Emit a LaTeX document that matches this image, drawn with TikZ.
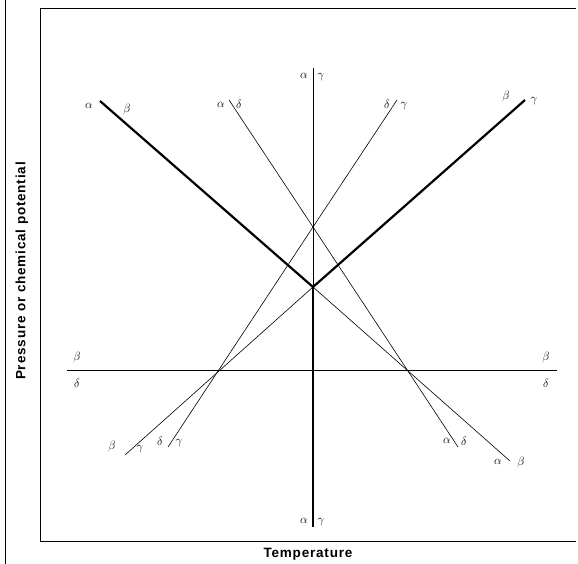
\documentclass[tikz,border=0pt]{standalone}
\usepackage{fontspec}
\newfontfamily\axisfont[LetterSpace=6]{Liberation Sans}
\tikzset{
  phase/.style={
    inner sep = 0pt,
    font=\fontsize{12}{12}\selectfont
  },
  stable/.style={
    line width=2.2pt
  },
  metastable/.style={
    line width=0.6pt
  },
  axislabel/.style={
    inner sep = 0pt,
    font=\axisfont\bfseries\fontsize{13.5}{15}\selectfont
  }
}

\begin{document}
\begin{tikzpicture}[x=1pt,y=-1pt]
        \useasboundingbox (0,0) rectangle (578,564);
        % frame
        \draw[line width=0.5pt] (5,0)--(5,564);
        \draw[line width=0.8pt] (576,8)--(40,8)--(40,541)--(576,541);
        \node[axislabel,rotate=90] (ylab) at (22,271) {Pressure or chemical potential};
        \node[axislabel] (xlab) at (308,554) {Temperature};
        % invariant points
        \coordinate (T) at (313,287);
        \coordinate (U) at (313,227);
        \coordinate (L) at (219,370);
        \coordinate (R) at (407,370);
        % line ends
        \coordinate (agtop) at (313,68);
        \coordinate (agbot) at (313,527);
        \coordinate (abtop) at (100,101);
        \coordinate (abbot) at (510,461);
        \coordinate (bgtop) at (525,100);
        \coordinate (bgbot) at (125,455);
        \coordinate (adtop) at (229,100);
        \coordinate (adbot) at (458,447);
        \coordinate (dgtop) at (397,100);
        \coordinate (dgbot) at (168,447);
        \coordinate (bdleft) at (67,370);
        \coordinate (bdright) at (557,370);
        % metastable extensions
        \draw[metastable] (agtop)--(T);
        \draw[metastable] (T)--(abbot);
        \draw[metastable] (T)--(bgbot);
        \draw[metastable] (adtop)--(U)--(adbot);
        \draw[metastable] (dgtop)--(U)--(dgbot);
        \draw[metastable] (bdleft)--(bdright);
        % stable boundaries
        \draw[stable] (abtop)--(T);
        \draw[stable] (bgtop)--(T);
        \draw[stable] (T)--(agbot);
        % labels
        \node[phase] (a1) at (304,76) {$\alpha$};
        \node[phase] (g1) at (321,77) {$\gamma$};
        \node[phase] (a2) at (304,521) {$\alpha$};
        \node[phase] (g2) at (321,522) {$\gamma$};
        \node[phase] (a3) at (89,106) {$\alpha$};
        \node[phase] (b3) at (127,110) {$\beta$};
        \node[phase] (b4) at (506,97) {$\beta$};
        \node[phase] (g4) at (534,101) {$\gamma$};
        \node[phase] (a5) at (221,105) {$\alpha$};
        \node[phase] (d5) at (239,104) {$\delta$};
        \node[phase] (d6) at (387,104) {$\delta$};
        \node[phase] (g6) at (404,106) {$\gamma$};
        \node[phase] (b7) at (77,357) {$\beta$};
        \node[phase] (d7) at (77,383) {$\delta$};
        \node[phase] (b8) at (546,357) {$\beta$};
        \node[phase] (d8) at (546,383) {$\delta$};
        \node[phase] (b9) at (112,446) {$\beta$};
        \node[phase] (g9) at (140,449) {$\gamma$};
        \node[phase] (d10) at (160,441) {$\delta$};
        \node[phase] (g10) at (179,443) {$\gamma$};
        \node[phase] (a11) at (447,441) {$\alpha$};
        \node[phase] (d11) at (464,441) {$\delta$};
        \node[phase] (a12) at (498,462) {$\alpha$};
        \node[phase] (b12) at (521,462) {$\beta$};
    \end{tikzpicture}
\end{document}
